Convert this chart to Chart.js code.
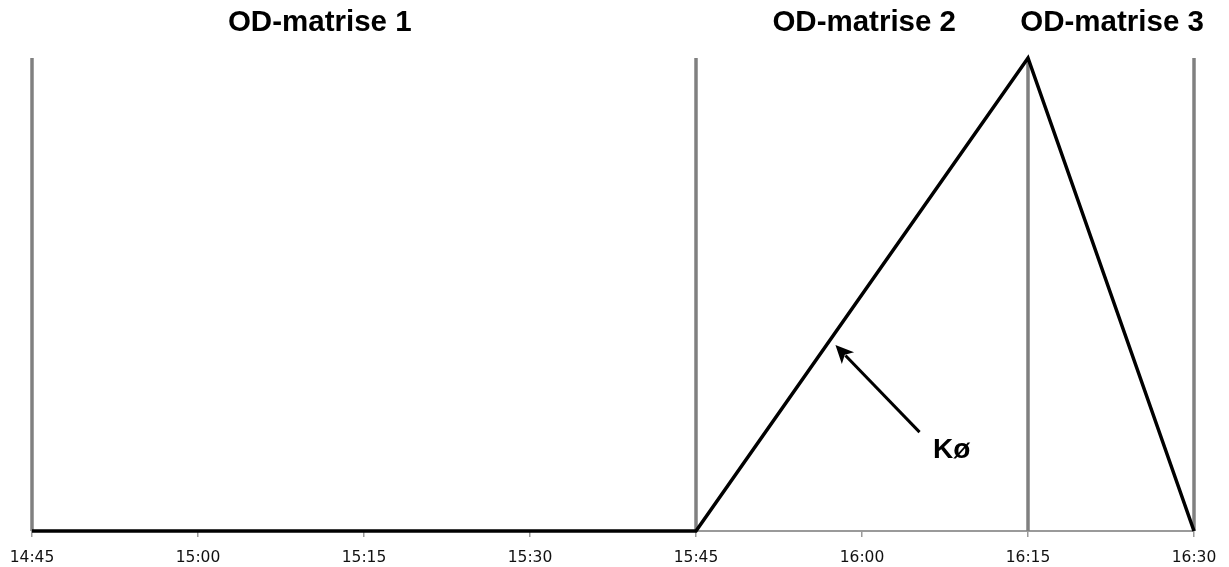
<!DOCTYPE html>
<html>
<head>
<meta charset="utf-8">
<script src="https://cdn.jsdelivr.net/npm/chart.js@4/dist/chart.umd.min.js"></script>
<style>
    html, body { margin: 0; padding: 0; background: #fff; }
    #wrap { width: 1229px; height: 567px; }
</style>
</head>
<body>
<div id="wrap"><canvas id="myChart" width="1229" height="567"></canvas></div>
<script>
// tick labels, one per 15 minutes starting at 14:45
const tickLabels = ["14:45", "15:00", "15:15", "15:30", "15:45", "16:00", "16:15", "16:30"];
// queue line, x in minutes after 14:45
const queueMinutes = [0, 60, 90, 105];
const queueValues = [0, 0, 100, 0];
// OD-matrix boundaries (minutes after 14:45)
const boundaryMinutes = [0, 60, 90, 105];
const matrixNames = ["OD-matrise 1", "OD-matrise 2", "OD-matrise 3"];
const matrixLabelMinutes = [26, 75.2, 97.6];
const yMax = 100;
// arrow annotation "Kø" (data units)
const arrowFrom = { x: 80.2, y: 20.9 };
const arrowTo = { x: 72.6, y: 39.3 };
const arrowLabel = { text: "Kø", x: 83.1, y: 17.0 };

var queuePoints = [];
for (var i = 0; i < queueMinutes.length; i++) {
    queuePoints.push({ x: queueMinutes[i], y: queueValues[i] });
}

const datasets = [
    {
        label: "Kø",
        data: queuePoints,
        borderColor: "#000",
        borderWidth: 3.5,
        pointRadius: 0,
        tension: 0,
        clip: false,
        order: 0,
    },
];
for (i = 0; i < boundaryMinutes.length; i++) {
    datasets.push({
        label: "grense " + i,
        data: [{ x: boundaryMinutes[i], y: 0 }, { x: boundaryMinutes[i], y: yMax }],
        borderColor: "#808080",
        borderWidth: 3.5,
        pointRadius: 0,
        clip: false,
        order: 1,
    });
}

// titles above the chart and the arrow with label
const overlay = {
    id: "overlay",
    afterDatasetsDraw(chart) {
        const { ctx, chartArea, scales } = chart;
        const { x, y } = scales;
        ctx.save();
        ctx.fillStyle = "#000";
        ctx.font = "bold 29.5px 'Liberation Sans', Arial, sans-serif";
        ctx.textAlign = "center";
        ctx.textBaseline = "middle";
        for (var k = 0; k < matrixNames.length; k++) {
            ctx.fillText(matrixNames[k], x.getPixelForValue(matrixLabelMinutes[k]), chartArea.top - 35);
        }

        const x1 = x.getPixelForValue(arrowFrom.x), y1 = y.getPixelForValue(arrowFrom.y);
        const x2 = x.getPixelForValue(arrowTo.x), y2 = y.getPixelForValue(arrowTo.y);
        const ang = Math.atan2(y2 - y1, x2 - x1);
        const headLen = 18, headW = 8.5;
        ctx.strokeStyle = "#000";
        ctx.lineWidth = 3;
        ctx.beginPath();
        ctx.moveTo(x1, y1);
        ctx.lineTo(x2 - Math.cos(ang) * headLen * 0.8, y2 - Math.sin(ang) * headLen * 0.8);
        ctx.stroke();
        ctx.beginPath();
        ctx.moveTo(x2, y2);
        ctx.lineTo(x2 - Math.cos(ang) * headLen + Math.sin(ang) * headW, y2 - Math.sin(ang) * headLen - Math.cos(ang) * headW);
        ctx.lineTo(x2 - Math.cos(ang) * headLen * 0.75, y2 - Math.sin(ang) * headLen * 0.75);
        ctx.lineTo(x2 - Math.cos(ang) * headLen - Math.sin(ang) * headW, y2 - Math.sin(ang) * headLen + Math.cos(ang) * headW);
        ctx.closePath();
        ctx.fill();

        ctx.font = "bold 28px 'Liberation Sans', Arial, sans-serif";
        ctx.fillText(arrowLabel.text, x.getPixelForValue(arrowLabel.x), y.getPixelForValue(arrowLabel.y));
        ctx.restore();
    },
};

const config = {
    type: "line",
    data: { datasets },
    options: {
        responsive: false,
        animation: false,
        layout: { padding: { left: 32, right: 35, top: 58, bottom: 1 } },
        plugins: {
            legend: { display: false },
            tooltip: { enabled: false },
            title: { display: false },
        },
        scales: {
            x: {
                type: "linear",
                min: 0,
                max: 105,
                offset: false,
                afterFit: (scale) => {
                    scale.height = 35;
                    scale.paddingLeft = 0;
                    scale.paddingRight = 0;
                },
                border: { display: true, color: "#9a9a9a", width: 2 },
                grid: { drawOnChartArea: false, drawTicks: true, tickLength: 6, color: "#9a9a9a", lineWidth: 1.5 },
                ticks: {
                    stepSize: 15,
                    padding: 12,
                    maxRotation: 0,
                    color: "#111",
                    font: { family: "DejaVu Sans", size: 15.5 },
                    callback: (value) => tickLabels[Math.round(value / 15)],
                },
            },
            y: {
                display: false,
                min: 0,
                max: yMax,
            },
        },
    },
    plugins: [overlay],
};

const myChart = new Chart(document.getElementById("myChart"), config);
</script>
</body>
</html>
